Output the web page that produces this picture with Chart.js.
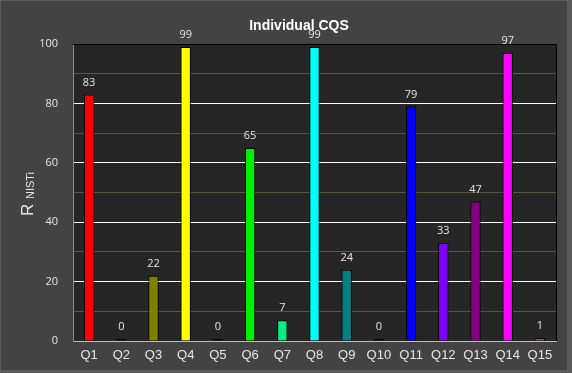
<!DOCTYPE html>
<html>
<head>
<meta charset="utf-8">
<script src="https://cdn.jsdelivr.net/npm/chart.js@4/dist/chart.umd.min.js"></script>
<style>
  body { margin: 0; background: #595959; }
  #wrap { width: 572px; height: 373px; }
</style>
</head>
<body>
<div id="wrap"><canvas id="grafico" width="572" height="373"></canvas></div>
<script>
const categorias = ['Q1', 'Q2', 'Q3', 'Q4', 'Q5', 'Q6', 'Q7', 'Q8', 'Q9', 'Q10', 'Q11', 'Q12', 'Q13', 'Q14', 'Q15'];
const valores = [83, 0, 22, 99, 0, 65, 7, 99, 24, 0, 79, 33, 47, 97, 1];
const cores = ['#ff0000', '#000000', '#808000', '#ffff00', '#000000', '#00ee00', '#00ee80', '#00ffff',
               '#008080', '#000000', '#0000ff', '#8000ff', '#800080', '#ff00ff', '#c0407f'];
const ticksY = [0, 20, 40, 60, 80, 100];

// fundo, area do grafico, titulo, rotulo do eixo e valores
const decoracao = {
    id: 'decoracao',
    beforeDraw(chart) {
        const ctx = chart.ctx;
        const a = chart.chartArea;
        ctx.save();
        ctx.fillStyle = '#5a5a5a';
        ctx.fillRect(0, 0, chart.width, chart.height);
        ctx.fillStyle = '#434343';
        ctx.fillRect(1, 1, 566, 369);
        ctx.fillStyle = '#262626';
        ctx.fillRect(a.left, a.top, a.right - a.left, a.bottom - a.top);
        ctx.restore();
    },
    afterDraw(chart) {
        const ctx = chart.ctx;
        const a = chart.chartArea;
        ctx.save();
        // borda superior e direita
        ctx.strokeStyle = '#000000';
        ctx.lineWidth = 1;
        ctx.beginPath();
        ctx.moveTo(a.left, a.top + 0.5);
        ctx.lineTo(a.right + 0.5, a.top + 0.5);
        ctx.lineTo(a.right + 0.5, a.bottom);
        ctx.stroke();

        // valores acima das barras
        const meta = chart.getDatasetMeta(0);
        ctx.fillStyle = '#e6e6e6';
        ctx.font = '11px "Open Sans", sans-serif';
        ctx.textAlign = 'center';
        ctx.textBaseline = 'middle';
        meta.data.forEach((bar, i) => {
            ctx.fillText(String(valores[i]), bar.x, bar.y - 12);
        });

        // titulo
        ctx.fillStyle = '#ffffff';
        ctx.font = 'bold 14px "Liberation Sans", Arial, sans-serif';
        ctx.fillText('Individual CQS', 299, 26);

        // rotulo do eixo Y: R com subscrito NISTi
        ctx.translate(33, 194);
        ctx.rotate(-Math.PI / 2);
        ctx.textAlign = 'left';
        ctx.textBaseline = 'alphabetic';
        ctx.fillStyle = '#e6e6e6';
        ctx.font = '17px "Liberation Sans", Arial, sans-serif';
        const wR = ctx.measureText('R ').width;
        const wSub = (() => { ctx.font = '11px "Liberation Sans", Arial, sans-serif'; return ctx.measureText('NISTi').width; })();
        const inicio = -(wR + wSub) / 2;
        ctx.font = '17px "Liberation Sans", Arial, sans-serif';
        ctx.fillText('R', inicio, 0);
        ctx.font = '11px "Liberation Sans", Arial, sans-serif';
        ctx.fillText('NISTi', inicio + wR, 1);
        ctx.restore();
    }
};

const ctxGrafico = document.getElementById('grafico').getContext('2d');
const grafico = new Chart(ctxGrafico, {
    type: 'bar',
    data: {
        labels: categorias,
        datasets: [
            {
                data: valores,
                backgroundColor: cores,
                borderColor: '#000000',
                borderWidth: 1,
                borderSkipped: 'bottom',
                minBarLength: 2,
                barPercentage: 0.32,
                categoryPercentage: 1
            }
        ]
    },
    options: {
        responsive: false,
        animation: false,
        layout: {
            padding: { top: 44, right: 16, left: 0, bottom: 0 }
        },
        plugins: {
            legend: { display: false },
            title: { display: false },
            tooltip: { enabled: false }
        },
        scales: {
            x: {
                afterFit(scale) { scale.height = 32; },
                grid: { display: false, drawTicks: false },
                border: { color: '#bdbdbd', width: 1 },
                ticks: {
                    color: '#e6e6e6',
                    padding: 7,
                    font: { family: '"Liberation Sans", Arial, sans-serif', size: 13 }
                }
            },
            y: {
                min: 0,
                max: 100,
                afterFit(scale) { scale.width = 73; },
                afterBuildTicks(scale) {
                    const t = [];
                    for (let v = 0; v <= 100; v += 10) t.push({ value: v });
                    scale.ticks = t;
                },
                grid: {
                    drawTicks: false,
                    color(c) {
                        const v = c.tick.value;
                        if (v === 100) return '#000000';
                        if (v === 0) return '#bdbdbd';
                        return ticksY.includes(v) ? '#ffffff' : '#57543f';
                    }
                },
                border: { color: '#8e8a6e', width: 1 },
                ticks: {
                    color: '#e6e6e6',
                    padding: 15,
                    font: { family: '"Open Sans", sans-serif', size: 11 },
                    callback(v) { return ticksY.includes(v) ? v : ''; }
                }
            }
        }
    },
    plugins: [decoracao]
});
</script>
</body>
</html>
